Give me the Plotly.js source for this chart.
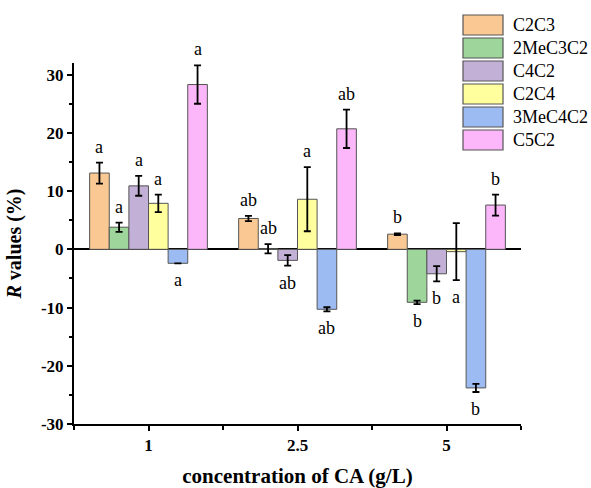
<!DOCTYPE html>
<html><head><meta charset="utf-8">
<script src="https://cdn.plot.ly/plotly-3.0.1.min.js"></script>
<style>html,body{margin:0;padding:0;background:#fff}</style>
</head><body><div id="chart" style="width:591px;height:488px"></div>
<script>
const categories = ['1', '2.5', '5'];
const seriesNames = ['C2C3', '2MeC3C2', 'C4C2', 'C2C4', '3MeC4C2', 'C5C2'];
const colors = ['#FAC993', '#9DD59B', '#C3B0D6', '#FFFF9E', '#9DBBF3', '#FBB7FA'];
const C2C3 = [13.1, 5.3, 2.6];
const C2C3_err = [1.8, 0.45, 0.15];
const MeC3C2 = [3.8, 0.1, -9.1];
const MeC3C2_err = [0.8, 0.8, 0.3];
const C4C2 = [10.9, -1.9, -4.2];
const C4C2_err = [1.7, 0.9, 1.3];
const C2C4 = [7.9, 8.6, -0.4];
const C2C4_err = [1.5, 5.5, 4.9];
const MeC4C2 = [-2.4, -10.3, -23.8];
const MeC4C2_err = [0, 0.35, 0.7];
const C5C2 = [28.3, 20.7, 7.6];
const C5C2_err = [3.3, 3.3, 1.8];
const letters_C2C3 = ['a', 'ab', 'b'];
const letters_MeC3C2 = ['a', 'ab', 'b'];
const letters_C4C2 = ['a', 'ab', 'b'];
const letters_C2C4 = ['a', 'a', 'a'];
const letters_MeC4C2 = ['a', 'ab', 'b'];
const letters_C5C2 = ['a', 'ab', 'b'];
const yTickVals = [-30, -20, -10, 0, 10, 20, 30];
const yTickText = ['-30', '-20', '-10', '0', '10', '20', '30'];

const values = [C2C3, MeC3C2, C4C2, C2C4, MeC4C2, C5C2];
const errs = [C2C3_err, MeC3C2_err, C4C2_err, C2C4_err, MeC4C2_err, C5C2_err];
const letters = [letters_C2C3, letters_MeC3C2, letters_C4C2, letters_C2C4, letters_MeC4C2, letters_C5C2];

const xpos = categories.map((c, i) => i);
const bargap = 0.21;
const nS = seriesNames.length;
const bw = (1 - bargap) / nS;
const serif = 'Liberation Serif';

const traces = [];
const annotations = [];
seriesNames.forEach((name, s) => {
  traces.push({
    type: 'bar', name: name, x: xpos, y: values[s],
    marker: {color: colors[s], line: {color: '#555555', width: 1}},
    error_y: {type: 'data', array: errs[s], visible: true, color: '#000', thickness: 1.8, width: 3.5},
    showlegend: false, hoverinfo: 'skip'
  });
  xpos.forEach((g, k) => {
    const v = values[s][k], e = errs[s][k];
    const pos = v >= 0;
    annotations.push({
      xref: 'x', yref: 'y', x: g + (s - (nS - 1) / 2) * bw, y: pos ? v + e : v - e,
      xanchor: 'center', yanchor: pos ? 'bottom' : 'top', yshift: pos ? 4 : -5,
      showarrow: false, text: letters[s][k], font: {family: serif, size: 18, color: '#000'}
    });
  });
});

const shapes = [];
seriesNames.forEach((name, s) => {
  const top = 15 + s * 23;
  shapes.push({type: 'rect', xref: 'paper', yref: 'paper',
    x0: (463 - 74) / 447, x1: (503 - 74) / 447,
    y0: (424 - top) / 361, y1: (424 - top - 20) / 361,
    fillcolor: colors[s], line: {color: '#555555', width: 1.2}});
  annotations.push({xref: 'paper', yref: 'paper', x: (511 - 74) / 447, y: (424 - top - 10) / 361,
    xanchor: 'left', yanchor: 'middle', showarrow: false, text: name,
    font: {family: serif, size: 18, color: '#000'}});
});

const layout = {
  width: 591, height: 488,
  margin: {l: 74, r: 70, t: 63, b: 64},
  paper_bgcolor: '#fff', plot_bgcolor: '#fff',
  barmode: 'group', bargap: bargap, bargroupgap: 0,
  showlegend: false,
  font: {family: serif, color: '#000'},
  xaxis: {
    range: [-0.5, 2.5], tickmode: 'array', tickvals: xpos, ticktext: categories,
    showline: true, linecolor: '#000', linewidth: 2, mirror: false,
    ticks: 'outside', ticklen: 5, tickwidth: 2, tickcolor: '#000',
    minor: {tick0: 0.5, dtick: 1, ticks: 'outside', ticklen: 4, tickwidth: 2, tickcolor: '#000'},
    showgrid: false, zeroline: false,
    tickfont: {family: serif, size: 17, weight: 'bold', color: '#000'},
    title: {text: 'concentration of CA (g/L)', font: {family: serif, size: 21, weight: 'bold', color: '#000'}, standoff: 20}
  },
  yaxis: {
    range: [-30, 32], tickmode: 'array', tickvals: yTickVals, ticktext: yTickText,
    showline: true, linecolor: '#000', linewidth: 2, mirror: false,
    ticks: 'outside', ticklen: 5, tickwidth: 2, tickcolor: '#000',
    minor: {tick0: -30, dtick: 5, ticks: 'outside', ticklen: 3, tickwidth: 2, tickcolor: '#000'},
    showgrid: false, zeroline: true, zerolinecolor: '#000', zerolinewidth: 2,
    tickfont: {family: serif, size: 17, weight: 'bold', color: '#000'},
    title: {text: '<i>R</i> values (%)', font: {family: serif, size: 20, weight: 'bold', color: '#000'}, standoff: 14}
  },
  shapes: shapes,
  annotations: annotations
};

Plotly.newPlot('chart', traces, layout, {displayModeBar: false, staticPlot: true});
</script></body></html>
